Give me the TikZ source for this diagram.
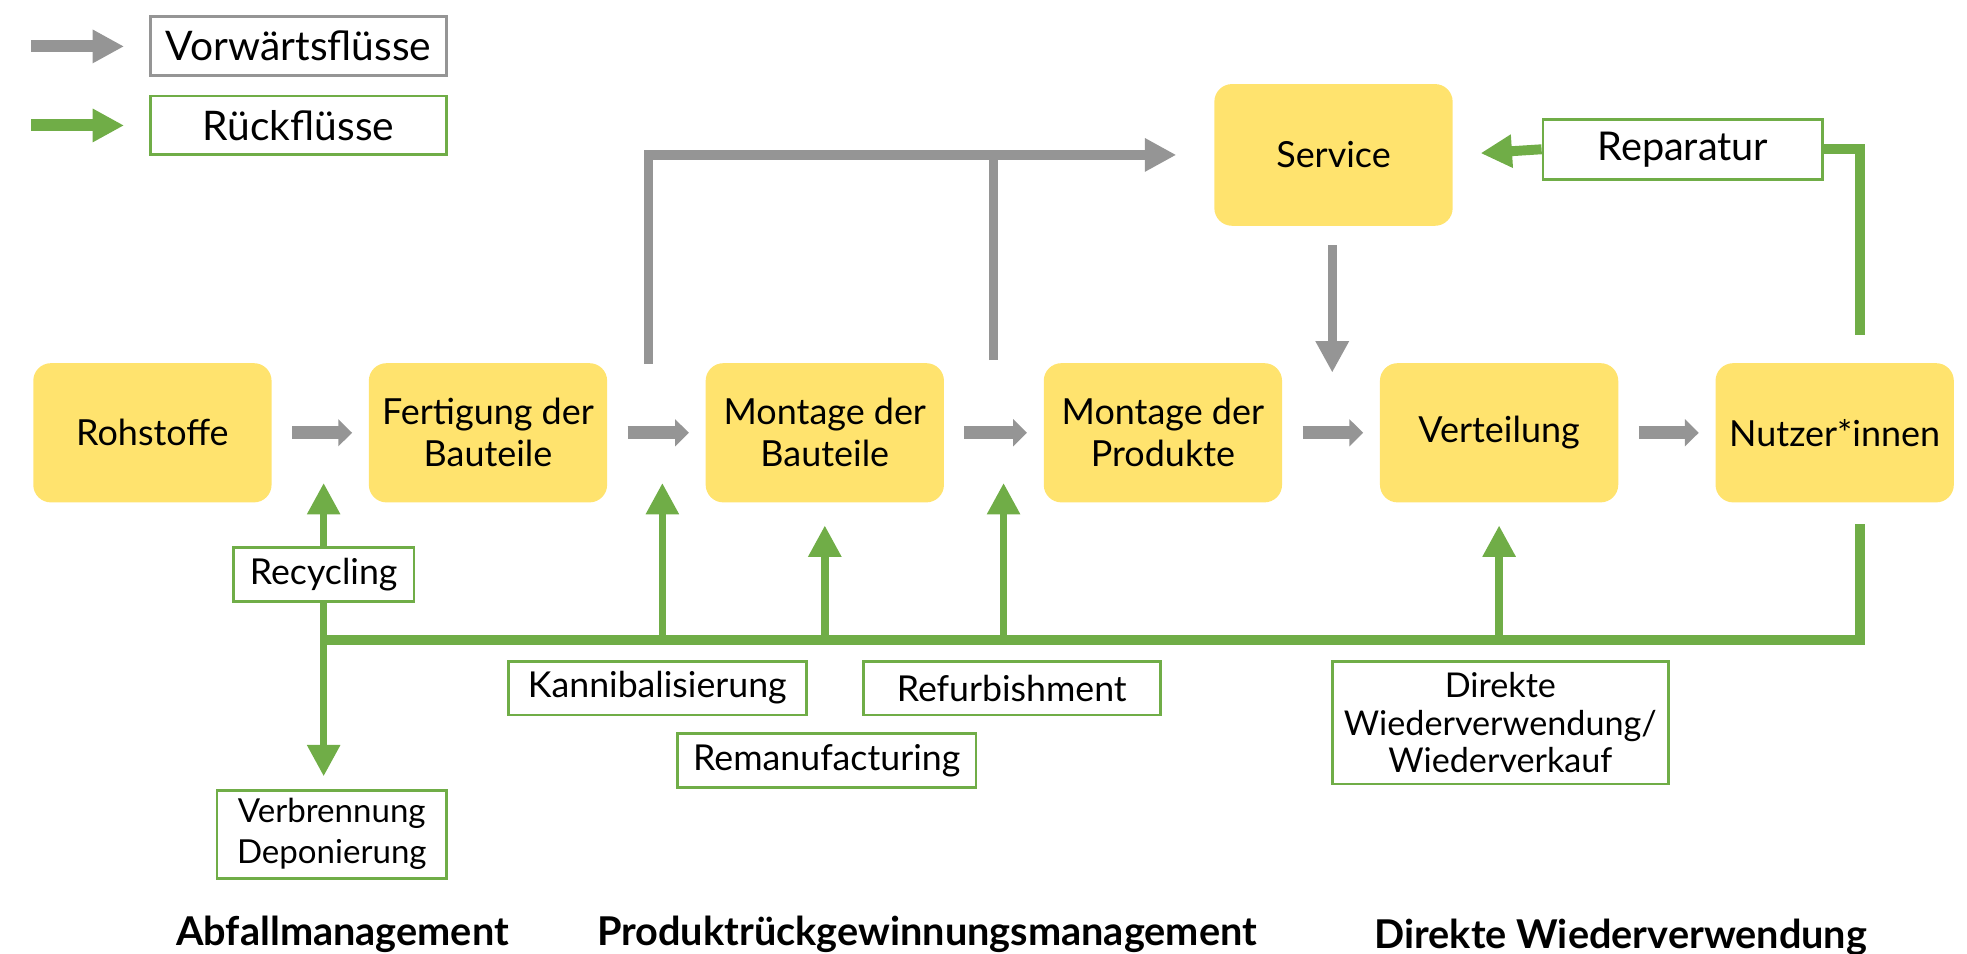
\documentclass[tikz,border=0pt]{standalone}
\usepackage{fontspec}
\setmainfont{Lato}
\usetikzlibrary{arrows.meta}
\definecolor{boxyellow}{HTML}{FFE36E}
\definecolor{flowgray}{HTML}{959595}
\definecolor{backgreen}{HTML}{70AD47}

\begin{document}
\begin{tikzpicture}[x=0.02cm, y=-0.02cm,
    stage/.style={fill=boxyellow, rounded corners=8pt, minimum width=3.8cm, minimum height=2.22cm,
      align=center, font=\fontsize{16.3}{19}\selectfont},
    tag/.style={draw=backgreen, line width=1.3pt, fill=white, align=center, inner sep=0pt,
      font=\fontsize{16.2}{18}\selectfont},
    key/.style={tag, minimum width=4.72cm, minimum height=0.94cm, font=\fontsize{18.5}{20}\selectfont},
    fwd/.style={draw=flowgray, line width=5.9pt, -{Triangle[length=0.22cm, width=0.42cm]},
      shorten <=0.32cm, shorten >=0.26cm},
    flow/.style={draw=flowgray, line width=4.3pt},
    back/.style={draw=backgreen, line width=3.4pt},
    head/.style={-{Triangle[length=0.5cm, width=0.5cm]}},
    title/.style={font=\fontsize{18}{20}\selectfont\bfseries}]
  \useasboundingbox (0,0) rectangle (1568,760);

  % stages
  \node[stage] (raw) at (121.5,345) {Rohstoffe};
  \node[stage] (parts) at (389,345) {Fertigung der\\Bauteile};
  \node[stage] (assy) at (657.5,345) {Montage der\\Bauteile};
  \node[stage] (prod) at (927,345) {Montage der\\Produkte};
  \node[stage] (dist) at (1195,345) {Verteilung};
  \node[stage] (user) at (1462.5,345) {Nutzer*innen};
  \node[stage, minimum height=2.26cm] (service) at (1063,123.5) {Service};

  % legend
  \node[key, draw=flowgray] (fwkey) at (238,36.5) {Vorwärtsflüsse};
  \node[key] (bwkey) at (238,100) {Rückflüsse};
  \coordinate (fwstart) at (25,37);
  \coordinate (bwstart) at (25,100);
  \draw[flowgray, line width=5.4pt, head, shorten >=0.4cm] (fwstart) -- (fwstart -| fwkey.west);
  \draw[backgreen, line width=5.4pt, head, shorten >=0.4cm] (bwstart) -- (bwstart -| bwkey.west);

  % labels
  \node[tag, minimum width=3.66cm, minimum height=1.4cm, font=\fontsize{15}{18.7}\selectfont] (burn) at (264.5,665) {Verbrennung\\Deponierung};
  \node[tag, minimum width=4.76cm, minimum height=0.86cm] (canni) at (524,548.5) {Kannibalisierung};
  \node[tag, minimum width=4.74cm, minimum height=0.86cm] (refurb) at (806.5,548.5) {Refurbishment};
  \node[tag, minimum width=4.76cm, minimum height=0.86cm] (reman) at (659,606.5) {Remanufacturing};
  \node[tag, minimum width=5.36cm, minimum height=1.96cm, font=\fontsize{15.5}{17.2}\selectfont] (reuse) at (1196,576) {Direkte\\Wiederverwendung/\\Wiederverkauf};
  \node[tag, minimum width=4.46cm, minimum height=0.96cm, font=\fontsize{18}{20}\selectfont] (repair) at (1341.5,119) {Reparatur};

  % forward flows
  \foreach \a/\b in {raw/parts, parts/assy, assy/prod, prod/dist, dist/user}
    \draw[fwd] (\a) -- (\b);
  \coordinate (up1) at (517,290);
  \coordinate (up2) at (792,287);
  \coordinate (gapS) at (1062,297);
  \draw[flow, head, shorten >=0.6cm] (up1) |- (service.west);
  \draw[flow] (up2) -- (up2 |- service.west);
  \draw[flow, head, shorten <=0.3cm] (service.south -| gapS) -- (gapS);

  % return flows
  \coordinate (ubot) at (1483,418);
  \coordinate (utop) at (1483,267);
  \coordinate (jl) at (258,510);
  \coordinate (jr) at (1483,510);
  \coordinate (tipA) at (258,385);
  \coordinate (tipB) at (528,385);
  \coordinate (tipC) at (800,385);
  \draw[back, line width=4.5pt] (ubot) -- (jr) -- (jl);
  \draw[back, line width=4.5pt] (utop) |- (repair.east);
  \draw[back, line width=4.5pt, head, shorten >=0.44cm] (repair.west) -- (service.east);
  \foreach \t in {tipA, tipB, tipC}
    \draw[back, head] (jl -| \t) -- (\t);
  \draw[back, head, shorten >=0.36cm] (jl -| assy.south) -- (assy.south);
  \draw[back, head, shorten >=0.36cm] (jl -| dist.south) -- (dist.south);
  \draw[back, head, shorten >=0.2cm] (jl) -- (jl |- burn.north);
  \node[tag, minimum width=2.88cm, minimum height=0.86cm] (recyc) at (258,458) {Recycling};

  % areas
  \node[title] (waste) at (273,745) {Abfallmanagement};
  \node[title] (recov) at (739,745) {Produktrückgewinnungsmanagement};
  \node[title] (direct) at (1292,747) {Direkte Wiederverwendung};
\end{tikzpicture}
\end{document}
